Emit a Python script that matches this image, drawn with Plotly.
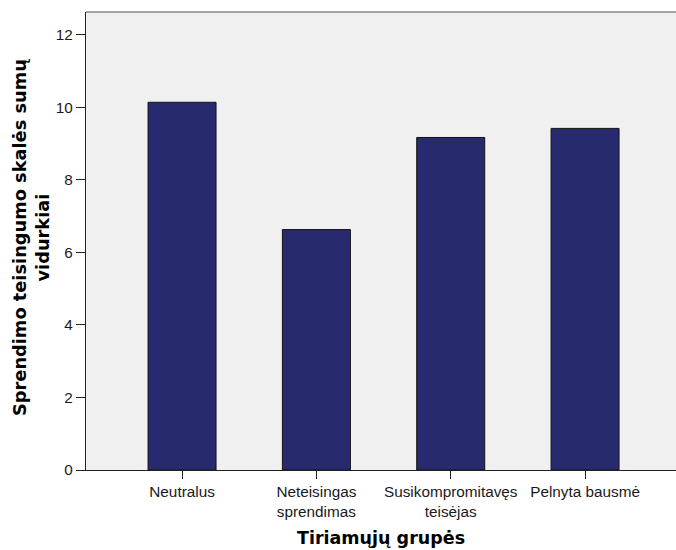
import plotly.graph_objects as go

categories = ["Neutralus", "Neteisingas<br>sprendimas", "Susikompromitavęs<br>teisėjas", "Pelnyta bausmė"]
means = [10.14, 6.63, 9.17, 9.42]
y_ticks = [0, 2, 4, 6, 8, 10, 12]
y_title = "Sprendimo teisingumo skalės sumų<br>vidurkiai"
x_title = "Tiriamųjų grupės"

positions = list(range(len(categories)))

fig = go.Figure()
fig.add_trace(go.Bar(
    x=positions, y=means, width=0.506,
    marker=dict(color="#282A70", line=dict(color="#111111", width=1)),
    hoverinfo="skip",
))

fig.update_layout(
    width=676, height=550, autosize=False,
    margin=dict(l=86, r=0, t=12, b=80),
    paper_bgcolor="white", plot_bgcolor="#F0F0F0",
    showlegend=False,
    font=dict(family="Liberation Sans, Arial, sans-serif", size=15.3, color="#1a1a1a"),
    xaxis=dict(
        range=[-0.715, 3.677], tickvals=positions, ticktext=categories,
        ticks="outside", ticklen=8, tickcolor="#222", tickwidth=1,
        showline=True, linecolor="#222", linewidth=1.2,
        showgrid=False, zeroline=False, fixedrange=True,
    ),
    yaxis=dict(
        range=[0, 12.63], tickvals=y_ticks,
        ticks="outside", ticklen=9, tickcolor="#222", tickwidth=1,
        showline=True, linecolor="#222", linewidth=1.2,
        showgrid=False, zeroline=False, fixedrange=True,
    ),
    annotations=[
        dict(text=y_title, xref="paper", yref="paper", x=(31 - 86) / 590, y=0.5066,
             xanchor="center", yanchor="middle", textangle=-90, showarrow=False,
             font=dict(family="DejaVu Sans", size=17.8, color="#000"), align="center"),
        dict(text=x_title, xref="paper", yref="paper", x=(381 - 86) / 590, y=(470 - 538) / 458,
             xanchor="center", yanchor="middle", showarrow=False,
             font=dict(family="DejaVu Sans", size=17.5, color="#000")),
    ],
    shapes=[dict(type="line", xref="paper", yref="paper", x0=0, x1=1, y0=1, y1=1,
                 line=dict(color="#8a8a8a", width=1.5))],
)
for a in fig.layout.annotations:
    a.font.weight = "bold"

fig.write_html("out.html", config={"displayModeBar": False},
               post_script="document.body.style.margin='0';")
